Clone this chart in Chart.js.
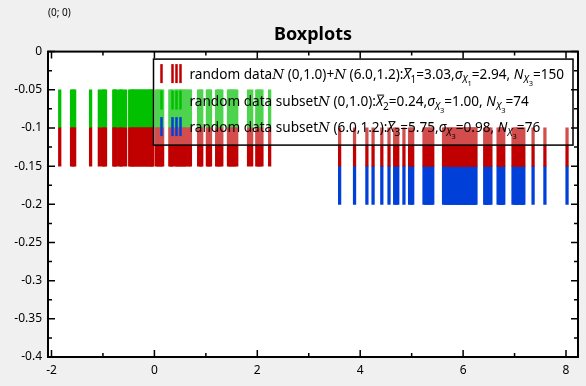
<!DOCTYPE html>
<html>
<head>
<meta charset="utf-8">
<script src="https://cdn.jsdelivr.net/npm/chart.js@4/dist/chart.umd.min.js"></script>
<style>
  html, body { margin: 0; padding: 0; background: #f0f0f0; }
  #wrap { width: 586px; height: 386px; position: relative; }
</style>
</head>
<body>
<div id="wrap"><canvas id="chart"></canvas></div>
<script>
// values
const subset1 = [
  -1.84, -1.61, -1.55, -1.58, -1.24,
  -1.07, -1.01, -0.98, -0.95,
  -0.79, -0.77, -0.74, -0.68, -0.65, -0.62, -0.56,
  -0.48, -0.45, -0.42, -0.40, -0.37, -0.34, -0.31, -0.28, -0.25, -0.22,
  -0.19, -0.16, -0.13, -0.10, -0.07, -0.05, -0.03,
  0.04, 0.07, 0.10, 0.13, 0.16,
  0.30, 0.33, 0.35,
  0.41, 0.44, 0.47, 0.50, 0.53, 0.56, 0.59, 0.62, 0.67, 0.70,
  0.86, 0.90, 0.92,
  1.03, 1.06, 1.09,
  1.21, 1.24, 1.27, 1.31,
  1.44, 1.47, 1.50, 1.53, 1.56, 1.60,
  1.83, 1.89,
  1.99, 2.02, 2.05, 2.09,
  2.24
];
const subset2 = [
  3.60, 3.89, 4.13, 4.25, 4.42, 4.56, 4.67, 4.70, 4.73, 4.85,
  4.96, 4.99, 5.02, 5.24, 5.27, 5.30, 5.33, 5.35, 5.38, 5.41,
  5.62, 5.65, 5.68, 5.70, 5.72, 5.74, 5.77, 5.78, 5.80, 5.83,
  5.86, 5.88, 5.90, 5.92, 5.93, 5.96, 5.98, 6.00, 6.02, 6.03,
  6.05, 6.07, 6.09, 6.11, 6.12, 6.15, 6.18, 6.19, 6.21, 6.23, 6.25,
  6.42, 6.45, 6.45, 6.48, 6.51, 6.54,
  6.68, 6.71, 6.73, 6.74, 6.77, 6.79,
  6.97, 7.00, 7.03, 7.05, 7.06, 7.09, 7.12, 7.14, 7.16, 7.18,
  7.36, 7.59, 8.02
];
const allData = subset1.concat(subset2);

const seriesNames = ['random data', 'random data subset', 'random data subset'];
const seriesDists = [['(0,1.0)+', '(6.0,1.2):'], ['(0,1.0):'], ['(6.0,1.2):']];
const seriesMeans = ['3.03', '0.24', '5.75'];
const seriesSds = ['2.94', '1.00', '0.98'];
const seriesCounts = ['150', '74', '76'];
const meanIdx = ['1', '2', '3'];
const sdIdx = ['1', '3', '3'];
const countIdx = ['3', '3', '3'];
const seriesBands = [[-0.15, -0.1], [-0.1, -0.05], [-0.2, -0.15]];

const xTicks = [-2, 0, 2, 4, 6, 8];
const xMinorTicks = [-1, 1, 3, 5, 7];
const yTicks = [0, -0.05, -0.1, -0.15, -0.2, -0.25, -0.3, -0.35, -0.4];
const yTickLabels = ['0', '-0.05', '-0.1', '-0.15', '-0.2', '-0.25', '-0.3', '-0.35', '-0.4'];
const yMinorTicks = [-0.025, -0.075, -0.125, -0.175, -0.225, -0.275, -0.325, -0.375];

const FONT = '"Noto Sans", "DejaVu Sans", sans-serif';
const colors = ['#c00000', '#00c000', '#0040d8'];

function legendSegments(i) {
  const segs = [{ t: seriesNames[i] }];
  seriesDists[i].forEach(d => {
    segs.push({ t: 'N', it: true, serif: true });
    segs.push({ t: ' ' + d });
  });
  segs.push({ t: 'X', it: true, over: true });
  segs.push({ t: meanIdx[i], lvl: 1 });
  segs.push({ t: '=' + seriesMeans[i] + ',' });
  segs.push({ t: 'σ', it: true });
  segs.push({ t: 'X', it: true, lvl: 1 });
  segs.push({ t: sdIdx[i], lvl: 2 });
  segs.push({ t: '=' + seriesSds[i] + ', ' });
  segs.push({ t: 'N', it: true });
  segs.push({ t: 'X', it: true, lvl: 1 });
  segs.push({ t: countIdx[i], lvl: 2 });
  segs.push({ t: '=' + seriesCounts[i] });
  return segs;
}

function drawRich(ctx, x, y, segs) {
  segs.forEach(s => {
    const lvl = s.lvl || 0;
    const size = lvl === 2 ? 7.5 : lvl === 1 ? 10 : 13.6;
    const dy = lvl === 2 ? 7 : lvl === 1 ? 4 : 0;
    ctx.font = (s.it ? 'italic ' : '') + size + 'px ' + (s.serif ? '"DejaVu Serif", serif' : FONT);
    ctx.fillText(s.t, x, y + dy);
    const w = ctx.measureText(s.t).width;
    if (s.over) ctx.fillRect(x + 1, y - 11, w, 1);
    x += w;
  });
}

const framePlugin = {
  id: 'frame',
  beforeDraw(chart) {
    const { ctx, chartArea: a } = chart;
    ctx.save();
    ctx.fillStyle = '#fff';
    ctx.fillRect(a.left, a.top, a.right - a.left, a.bottom - a.top);
    ctx.restore();
  },
  afterDatasetsDraw(chart) {
    const { ctx, chartArea: a } = chart;
    const xs = chart.scales.x, ys = chart.scales.y;
    ctx.save();

    // legend
    const lx = a.left + 105.5, ly = a.top + 7.5, lr = a.right - 5, lb = a.top + 93.5;
    ctx.fillStyle = 'rgba(255,255,255,0.3)';
    ctx.fillRect(lx, ly, lr - lx, lb - ly);
    ctx.strokeStyle = '#000';
    ctx.lineWidth = 1.5;
    ctx.strokeRect(lx, ly, lr - lx, lb - ly);
    for (let i = 0; i < 3; i++) {
      const cy = ly + 15 + i * 26.5;
      ctx.fillStyle = colors[i];
      [8, 19, 23, 27].forEach(off => ctx.fillRect(lx + off - 1.25, cy - 10, 2.5, 19));
      ctx.fillStyle = '#000';
      ctx.textBaseline = 'alphabetic';
      drawRich(ctx, lx + 36, cy + 5, legendSegments(i));
    }

    // ticks on all four sides, pointing inward
    ctx.strokeStyle = '#000';
    ctx.lineWidth = 1.5;
    ctx.beginPath();
    const xt = (vals, len) => vals.forEach(v => {
      const p = xs.getPixelForValue(v);
      ctx.moveTo(p, a.bottom); ctx.lineTo(p, a.bottom - len);
      ctx.moveTo(p, a.top); ctx.lineTo(p, a.top + len);
    });
    const yt = (vals, len) => vals.forEach(v => {
      const p = ys.getPixelForValue(v);
      ctx.moveTo(a.left, p); ctx.lineTo(a.left + len, p);
      ctx.moveTo(a.right, p); ctx.lineTo(a.right - len, p);
    });
    xt(xTicks, 7); xt(xMinorTicks, 4);
    yt(yTicks, 7); yt(yMinorTicks, 4);
    ctx.stroke();

    ctx.lineWidth = 2;
    ctx.strokeRect(a.left, a.top, a.right - a.left, a.bottom - a.top);
    ctx.restore();
  },
  afterDraw(chart) {
    const ctx = chart.ctx;
    ctx.save();
    ctx.fillStyle = '#000';
    ctx.font = '10px ' + FONT;
    ctx.textBaseline = 'middle';
    ctx.fillText('(0; 0)', 48, 13);
    ctx.restore();
  }
};

const bandData = (vals, band) => vals.map(v => ({ x: v, y: band }));

new Chart(document.getElementById('chart'), {
  type: 'bar',
  data: {
    datasets: [
      { data: bandData(allData, seriesBands[0]), backgroundColor: colors[0] },
      { data: bandData(subset1, seriesBands[1]), backgroundColor: colors[1] },
      { data: bandData(subset2, seriesBands[2]), backgroundColor: colors[2] }
    ]
  },
  options: {
    responsive: true,
    maintainAspectRatio: false,
    animation: false,
    datasets: { bar: { barThickness: 2.6, grouped: false, borderWidth: 0 } },
    layout: { padding: { left: 0, right: 8, top: 0, bottom: 0 } },
    plugins: {
      legend: { display: false },
      tooltip: { enabled: false },
      title: {
        display: true,
        text: 'Boxplots',
        fullSize: false,
        color: '#000',
        font: { family: FONT, size: 18, weight: 'bold', lineHeight: 1.2 },
        padding: { top: 24, bottom: 6 }
      }
    },
    scales: {
      x: {
        type: 'linear',
        min: -2.068,
        max: 8.233,
        offset: false,
        grid: { display: false, drawTicks: false },
        border: { display: false },
        afterBuildTicks: s => { s.ticks = xTicks.map(v => ({ value: v })); },
        afterFit: s => { s.height = 29; },
        ticks: { color: '#000', font: { family: FONT, size: 12 }, padding: 6, maxRotation: 0, autoSkip: false,
                 callback: v => String(v) }
      },
      y: {
        min: -0.4,
        max: 0,
        grid: { display: false, drawTicks: false },
        border: { display: false },
        afterBuildTicks: s => { s.ticks = yTicks.map(v => ({ value: v })); },
        afterFit: s => { s.width = 48; },
        ticks: { color: '#000', font: { family: FONT, size: 12 }, padding: 6, autoSkip: false,
                 callback: v => yTickLabels[yTicks.indexOf(v)] }
      }
    }
  },
  plugins: [framePlugin]
});
</script>
</body>
</html>
